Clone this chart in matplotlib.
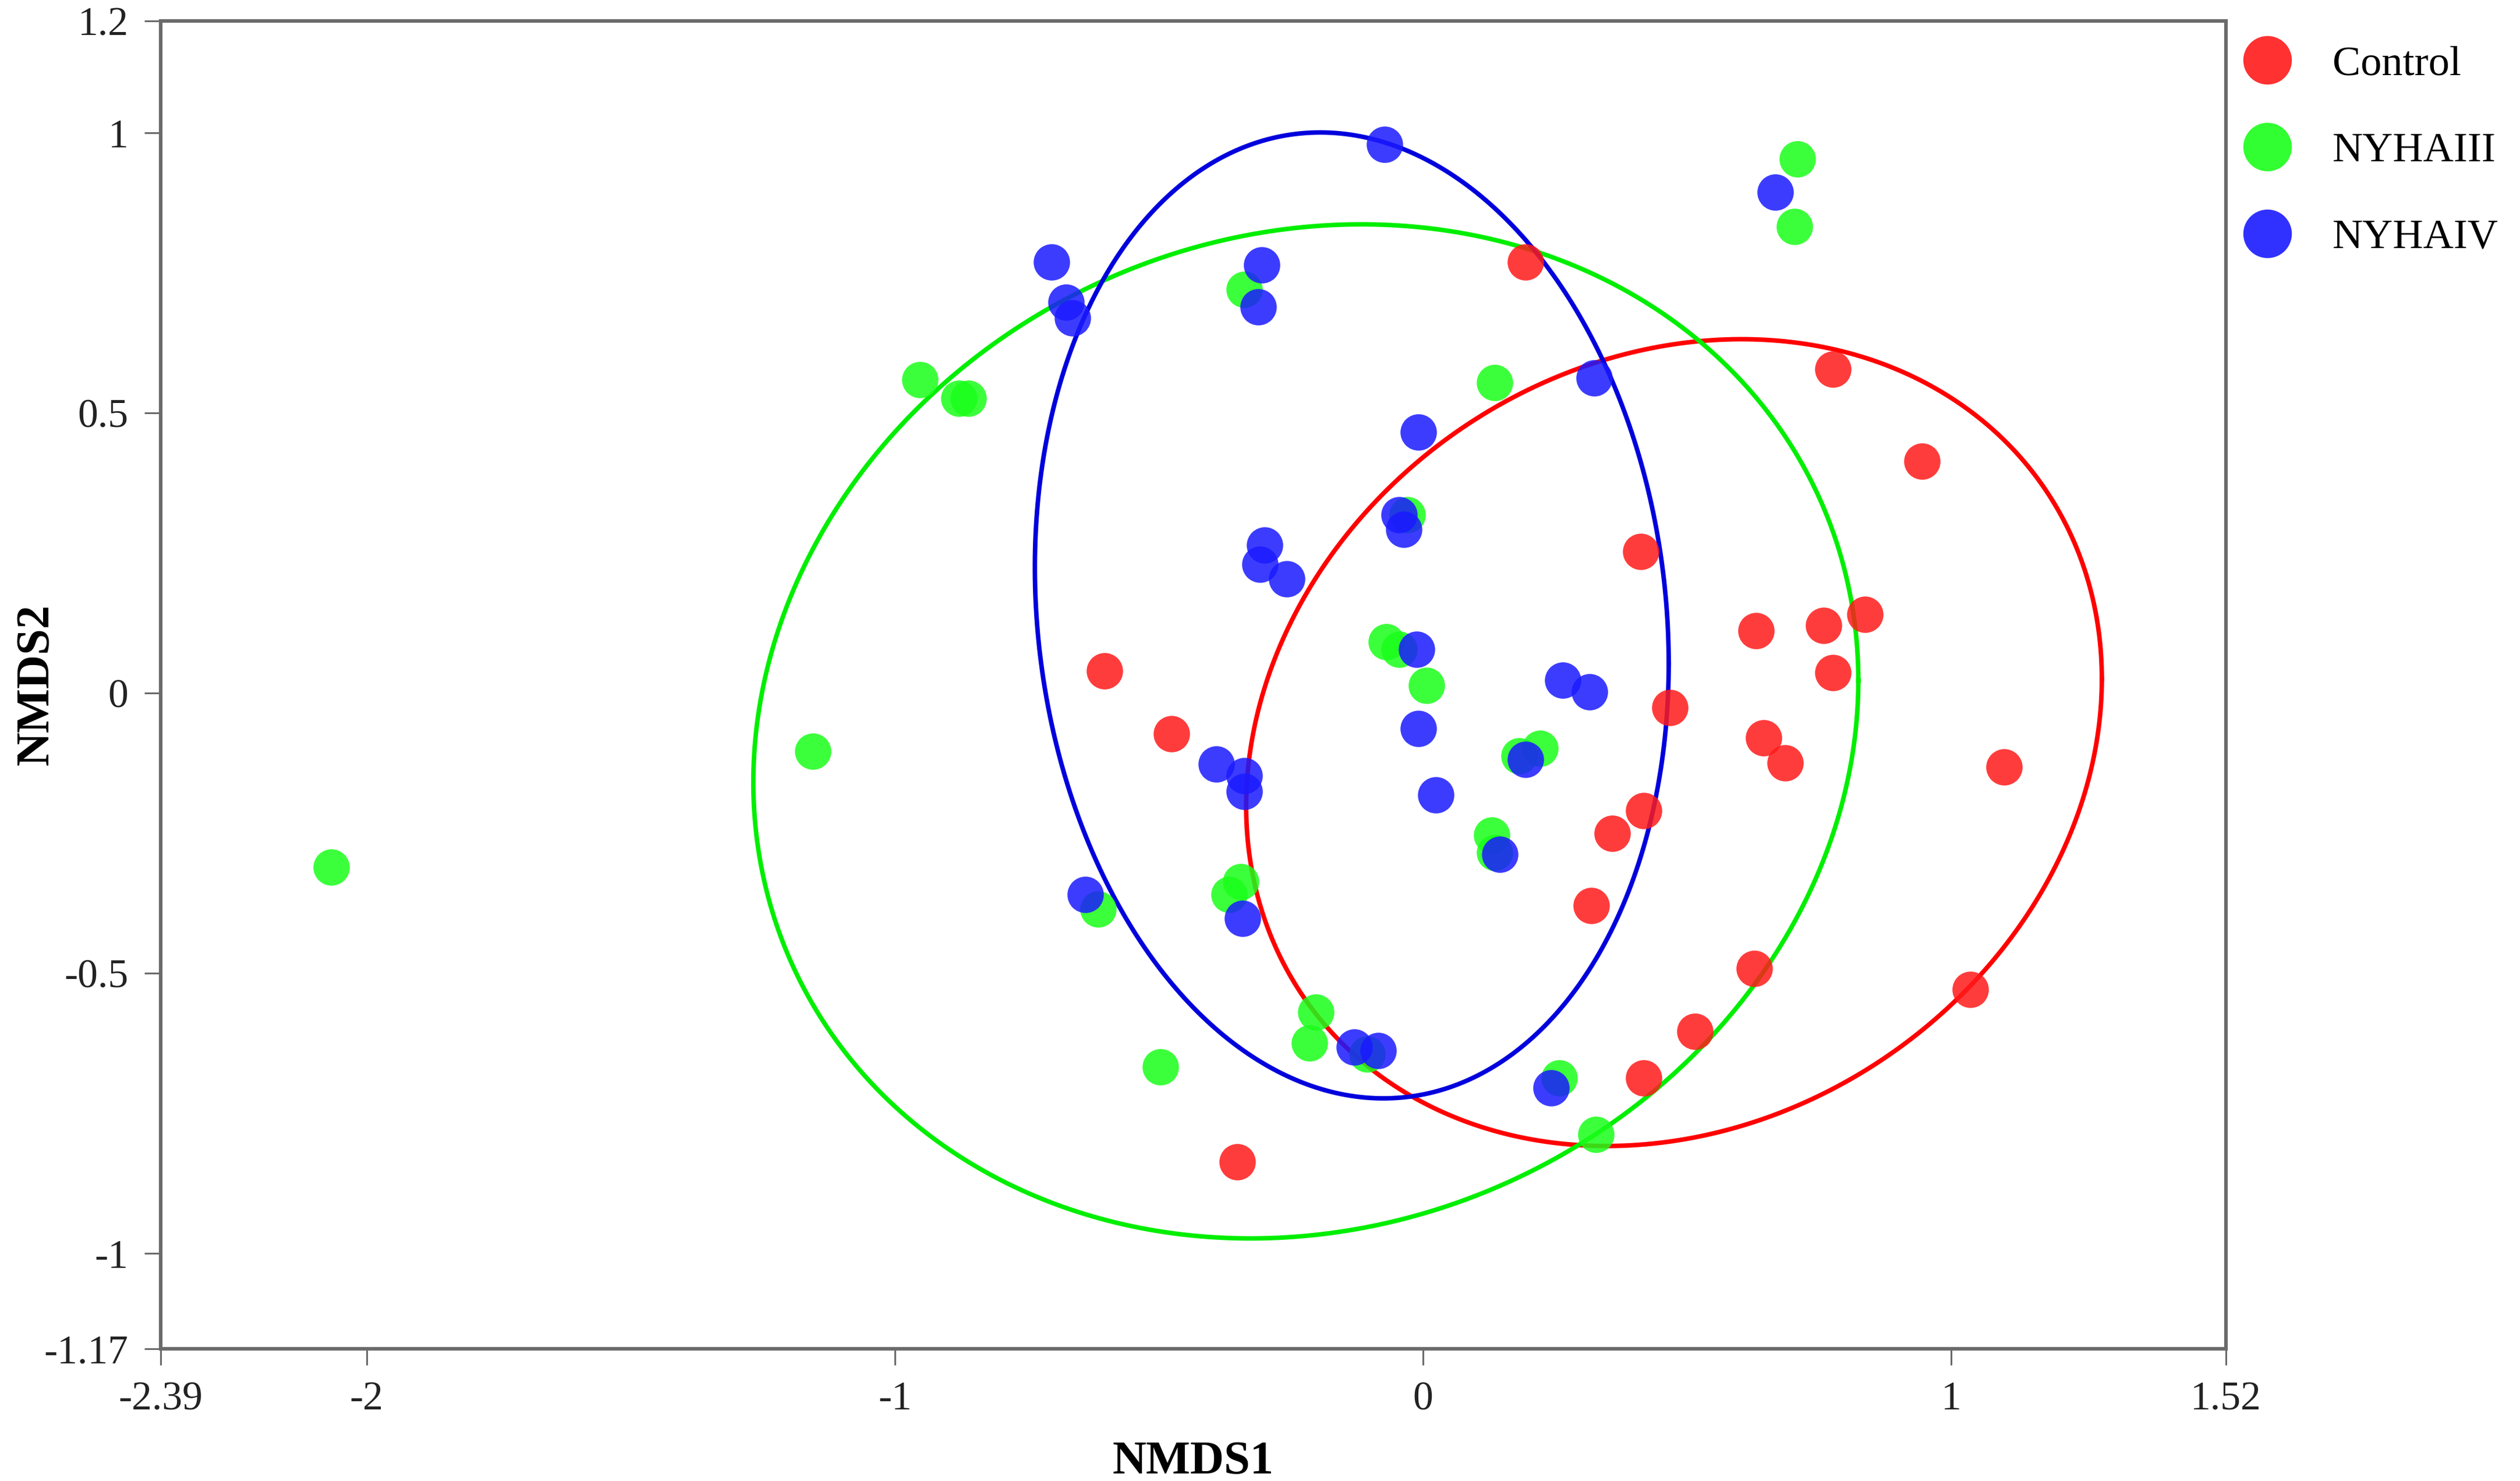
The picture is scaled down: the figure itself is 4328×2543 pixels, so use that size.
import numpy as np
import matplotlib
matplotlib.use('Agg')
import matplotlib.pyplot as plt
from matplotlib.lines import Line2D

plt.rcParams['font.family'] = ['Liberation Serif', 'DejaVu Serif']
plt.rcParams['axes.unicode_minus'] = False

# NMDS scores
control_x = [0.194, 0.776, 0.945, 0.412, 0.630, 0.758, 0.836, 0.776, -0.603, -0.476,
             0.467, 0.645, 0.685, 1.100, 0.418, 0.358, 0.318, 0.627, 1.036, 0.515,
             0.418, -0.352]
control_y = [0.770, 0.578, 0.414, 0.253, 0.112, 0.121, 0.141, 0.037, 0.040, -0.072,
             -0.026, -0.080, -0.124, -0.132, -0.210, -0.250, -0.379, -0.491, -0.529, -0.603,
             -0.687, -0.836]

nyha3_x = [0.709, 0.703, -0.339, -0.952, -0.879, -0.861, 0.136, -0.030, -0.070, -0.045,
           0.006, -1.155, 0.182, 0.221, 0.130, 0.136, -2.067, -0.345, -0.367, -0.615,
           -0.203, -0.215, -0.106, -0.497, 0.258, 0.327]
nyha3_y = [0.954, 0.833, 0.721, 0.560, 0.526, 0.526, 0.555, 0.319, 0.092, 0.078,
           0.014, -0.103, -0.112, -0.098, -0.253, -0.284, -0.310, -0.336, -0.359, -0.385,
           -0.569, -0.624, -0.644, -0.667, -0.687, -0.787]

nyha4_x = [-0.073, 0.667, -0.703, -0.676, -0.664, -0.306, -0.312, 0.324, -0.009, -0.045,
           -0.036, -0.300, -0.309, -0.258, -0.012, 0.264, 0.315, -0.009, -0.391, -0.339,
           -0.339, 0.194, 0.024, 0.145, -0.639, -0.342, -0.130, -0.085, 0.242]
nyha4_y = [0.980, 0.894, 0.770, 0.698, 0.670, 0.764, 0.690, 0.563, 0.466, 0.319,
           0.293, 0.264, 0.230, 0.204, 0.078, 0.023, 0.003, -0.063, -0.126, -0.147,
           -0.175, -0.118, -0.181, -0.287, -0.359, -0.402, -0.632, -0.638, -0.704]

# confidence ellipses: centre (x, y) and shape (sxx, syy, sxy)
control_ell = [(0.475, -0.088), (0.81 ** 2, 0.72 ** 2, 0.092)]
nyha3_ell = [(-0.222, -0.068), (1.046 ** 2, 0.905 ** 2, 0.095)]
nyha4_ell = [(-0.135, 0.139), (0.60 ** 2, 0.862 ** 2, -0.0515)]

groups = ['Control', 'NYHAIII', 'NYHAIV']
dot_colors = ['#ff1a1a', '#1aff1a', '#1a1aff']
line_colors = ['#ff0000', '#00ee00', '#0000dd']

x_ticks = [-2.39, -2, -1, 0, 1, 1.52]
x_labels = ['-2.39', '-2', '-1', '0', '1', '1.52']
y_ticks = [-1.17, -1, -0.5, 0, 0.5, 1, 1.2]
y_labels = ['-1.17', '-1', '-0.5', '0', '0.5', '1', '1.2']

FRAME = '#6b6b6b'
W, H, DPI = 4328, 2543, 200


def ellipse_path(centre, shape, n=400):
    sxx, syy, sxy = shape
    L = np.linalg.cholesky(np.array([[sxx, sxy], [sxy, syy]]))
    t = np.linspace(0, 2 * np.pi, n)
    pts = L @ np.vstack([np.cos(t), np.sin(t)])
    return pts[0] + centre[0], pts[1] + centre[1]


fig = plt.figure(figsize=(W / DPI, H / DPI), dpi=DPI, facecolor='white')
ax = fig.add_axes([276 / W, 1 - 2316 / H, (3823 - 276) / W, (2316 - 36) / H])

series = [(control_x, control_y, control_ell),
          (nyha3_x, nyha3_y, nyha3_ell),
          (nyha4_x, nyha4_y, nyha4_ell)]

for (xs, ys, ell), name, dc, lc in zip(series, groups, dot_colors, line_colors):
    ax.plot(xs, ys, 'o', ms=22.5, color=dc, alpha=0.85, mec='none', label=name, zorder=3)
    ex, ey = ellipse_path(*ell)
    ax.plot(ex, ey, color=lc, lw=2.8, zorder=2)

ax.set_xlim(-2.39, 1.52)
ax.set_ylim(-1.17, 1.2)
ax.set_xticks(x_ticks)
ax.set_xticklabels(x_labels)
ax.set_yticks(y_ticks)
ax.set_yticklabels(y_labels)
ax.tick_params(length=10, width=1.1, color=FRAME, labelsize=25, pad=10,
               labelcolor='#222222')
for sp in ax.spines.values():
    sp.set_color(FRAME)
    sp.set_linewidth(2.2)

ax.set_xlabel('NMDS1', fontsize=29, fontweight='bold', labelpad=14)
ax.set_ylabel('NMDS2', fontsize=29, fontweight='bold')
ax.yaxis.set_label_coords((100 - 276) / (3823 - 276), 0.5)

handles = [Line2D([], [], ls='none', marker='o', ms=30, color=c, mec='none', alpha=0.9)
           for c in dot_colors]
fig.legend(handles, groups, loc='upper left', bbox_to_anchor=(3851 / W, 1 - 78 / H),
           frameon=False, fontsize=26, handlelength=1.2, handletextpad=0.95,
           labelspacing=1.15, borderpad=0, borderaxespad=0)

fig.savefig('out.png', dpi=DPI, facecolor='white')
